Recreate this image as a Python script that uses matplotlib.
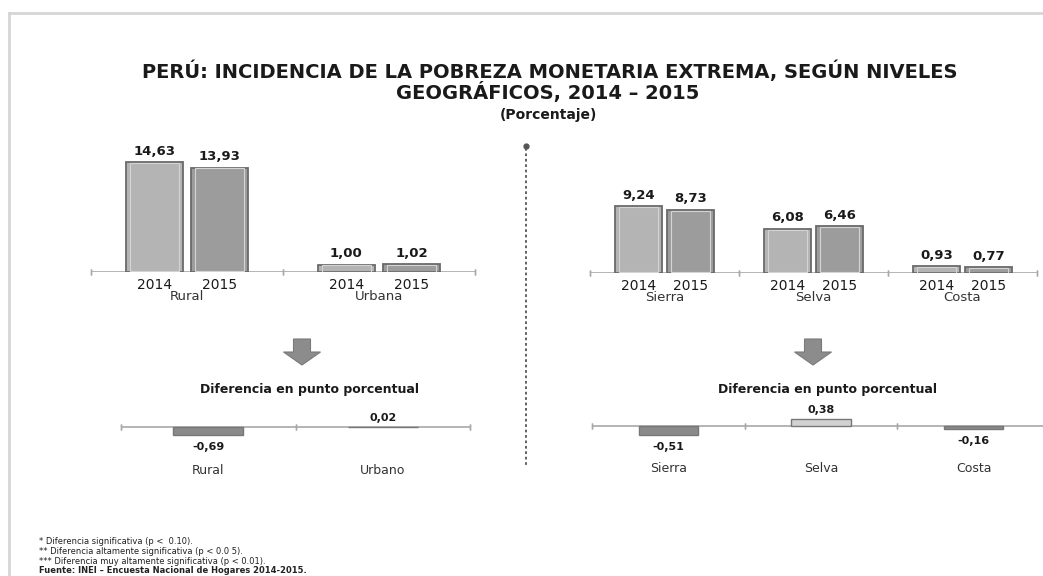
import matplotlib
matplotlib.use("Agg")
from matplotlib import pyplot as plt
from matplotlib.patches import Polygon
from matplotlib.lines import Line2D
from matplotlib.transforms import ScaledTranslation
import numpy as np

W, H = 1043, 576

# data
years = ["2014", "2015"]
area_groups = ["Rural", "Urbana"]
area_2014 = [14.63, 1.00]
area_2015 = [13.93, 1.02]
region_groups = ["Sierra", "Selva", "Costa"]
region_2014 = [9.24, 6.08, 0.93]
region_2015 = [8.73, 6.46, 0.77]
area_diff_labels = ["Rural", "Urbano"]
area_diff = [-0.69, 0.02]
region_diff_labels = ["Sierra", "Selva", "Costa"]
region_diff = [-0.51, 0.38, -0.16]

title_1 = "PERÚ: INCIDENCIA DE LA POBREZA MONETARIA EXTREMA, SEGÚN NIVELES"
title_2 = "GEOGRÁFICOS, 2014 – 2015"
subtitle = "(Porcentaje)"
diff_title = "Diferencia en punto porcentual"
notes = ["* Diferencia significativa (p <  0.10).",
         "** Diferencia altamente significativa (p < 0.0 5).",
         "*** Diferencia muy altamente significativa (p < 0.01)."]
source = "Fuente: INEI – Encuesta Nacional de Hogares 2014-2015."

C_2014 = "#b4b4b4"
C_2015 = "#9c9c9c"
C_EDGE = "#6a6a6a"
C_AXIS = "#a8a8a8"
TXT = "#1a1a1a"
FONT = "DejaVu Sans"


def fx(x):
    return x / W


def fy(y):
    return 1 - y / H


def down(ax, px):
    # shift by px screen pixels (positive = downwards)
    return ScaledTranslation(0, -px / 100, fig.dpi_scale_trans)


def add_axes(x0, x1, y_top, y_base):
    ax = fig.add_axes([fx(x0), fy(y_base), fx(x1) - fx(x0), (y_base - y_top) / H])
    ax.set_facecolor("none")
    for s in ax.spines.values():
        s.set_visible(False)
    ax.set_yticks([])
    return ax


def draw_axis_line(ax, n, y=0):
    ax.axhline(y, color=C_AXIS, lw=1.2, zorder=1)
    for b in np.arange(n + 1) - 0.5:
        ax.plot([b, b], [y, y], marker="|", ms=4, color=C_AXIS, clip_on=False)


def year_bars(ax, groups, v14, v15, off, width, scale_top):
    x = np.arange(len(groups))
    for xs, vals, col in [(x - off, v14, C_2014), (x + off, v15, C_2015)]:
        ax.bar(xs, vals, width=width, color=col, edgecolor=C_EDGE, lw=1.3, zorder=3)
        # inner rim for the bevel look
        ax.bar(xs, np.array(vals) - 0.08 * np.minimum(vals, 3), width=width * 0.86,
               bottom=0.04 * np.minimum(vals, 3), color="none", edgecolor="#d4d4d4",
               lw=0.8, zorder=4)
        for xi, v in zip(xs, vals):
            ax.text(xi, v, f"{v:.2f}".replace(".", ","), ha="center", va="center",
                    fontsize=9.5, fontweight="bold", family=FONT, color=TXT,
                    transform=ax.transData + down(ax, -11))
    ax.set_xlim(-0.5, len(groups) - 0.5)
    ax.set_ylim(0, scale_top)
    ax.set_xticks([])
    draw_axis_line(ax, len(groups))
    xt = ax.get_xaxis_transform()
    for i, g in enumerate(groups):
        ax.text(i - off, 0, years[0], transform=xt + down(ax, 13), ha="center",
                va="center", fontsize=10, family=FONT, color=TXT)
        ax.text(i + off, 0, years[1], transform=xt + down(ax, 13), ha="center",
                va="center", fontsize=10, family=FONT, color=TXT)
        ax.text(i, 0, g, transform=xt + down(ax, 25), ha="center",
                va="center", fontsize=9.5, family=FONT, color="#333333")


def diff_bars(ax, labels, vals, width, lim):
    x = np.arange(len(labels))
    cols = ["#d2d2d2" if v > 0.1 else "#8a8a8a" for v in vals]
    ax.bar(x, vals, width=width, color=cols, edgecolor="#777777", lw=1.0, zorder=3)
    ax.set_xlim(-0.5, len(labels) - 0.5)
    ax.set_ylim(-lim, lim)
    ax.set_xticks([])
    draw_axis_line(ax, len(labels))
    for xi, v in zip(x, vals):
        shift = -9 if v >= 0 else 12
        ax.text(xi, v, f"{v:.2f}".replace(".", ","), ha="center", va="center",
                fontsize=8, fontweight="bold", family=FONT, color=TXT,
                transform=ax.transData + down(ax, shift))
        ax.text(xi, 0, labels[xi], ha="center", va="center", fontsize=9,
                family=FONT, color="#333333", transform=ax.transData + down(ax, 43))


def down_arrow(cx, y0, y1):
    sw, hw = 8.5, 18.5
    ymid = y0 + (y1 - y0) * 0.5
    pts = [(cx - sw, y0), (cx + sw, y0), (cx + sw, ymid), (cx + hw, ymid), (cx, y1),
           (cx - hw, ymid), (cx - sw, ymid)]
    fig.patches.append(Polygon([(fx(a), fy(b)) for a, b in pts], closed=True,
                               transform=fig.transFigure, facecolor="#8c8c8c",
                               edgecolor="#7a7a7a", lw=0.8))


fig = plt.figure(figsize=(W / 100, H / 100), dpi=100)
fig.patch.set_facecolor("white")

# frame lines of the original slide
fig.add_artist(Line2D([fx(9), fx(W)], [fy(13), fy(13)], color="#d6d6d6", lw=2))
fig.add_artist(Line2D([fx(9), fx(9)], [fy(13), fy(H)], color="#d6d6d6", lw=2))

fig.text(fx(550), fy(71), title_1, ha="center", va="center", fontsize=14,
         fontweight="bold", family=FONT, color=TXT)
fig.text(fx(548), fy(93), title_2, ha="center", va="center", fontsize=14,
         fontweight="bold", family=FONT, color=TXT)
fig.text(fx(548), fy(115), subtitle, ha="center", va="center", fontsize=10,
         fontweight="bold", family=FONT, color=TXT)

# dotted separator
fig.add_artist(Line2D([fx(526), fx(526)], [fy(148), fy(465)], color="#555555", lw=1.3,
                      ls=(0, (1.5, 1.5))))
fig.add_artist(Line2D([fx(526)], [fy(146)], marker="o", ms=3.5, color="#555555"))

# top panels
ax1 = add_axes(91, 475, 152, 272)
year_bars(ax1, area_groups, area_2014, area_2015, 0.17, 0.30, 16)

ax2 = add_axes(590, 1037, 157, 273)
year_bars(ax2, region_groups, region_2014, region_2015, 0.175, 0.31, 16)

# arrows and subtitles
down_arrow(302, 339, 365)
down_arrow(813, 339, 365)
fig.text(fx(309), fy(389), diff_title, ha="center", va="center", fontsize=9,
         fontweight="bold", family=FONT, color=TXT)
fig.text(fx(827), fy(390), diff_title, ha="center", va="center", fontsize=9,
         fontweight="bold", family=FONT, color=TXT)

# difference panels
ax3 = add_axes(121, 470, 409, 445)
diff_bars(ax3, area_diff_labels, area_diff, 0.40, 1.5)

ax4 = add_axes(592, 1050, 399, 453)
diff_bars(ax4, region_diff_labels, region_diff, 0.39, 1.5)

# footnotes
for i, t in enumerate(notes):
    fig.text(fx(39), fy(542 + i * 9.5), t, ha="left", va="center", fontsize=6,
             family=FONT, color="#222222")
fig.text(fx(39), fy(570.5), source, ha="left", va="center", fontsize=6,
         fontweight="bold", family=FONT, color="#222222")

fig.savefig("out.png", dpi=100, facecolor="white")
